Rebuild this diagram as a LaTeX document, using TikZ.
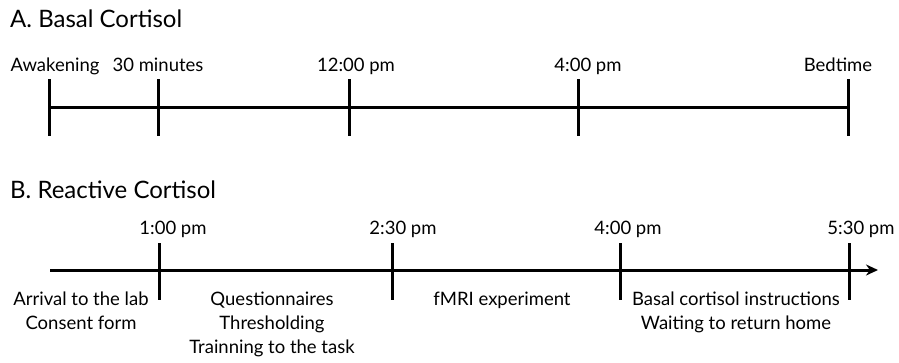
\documentclass[tikz,border=0pt]{standalone}
\usepackage{fontspec}
\setmainfont{Lato}
\usetikzlibrary{arrows.meta}
\begin{document}
\begin{tikzpicture}[x=1pt,y=-1pt,
  title/.style={font=\fontsize{24}{28}\selectfont, anchor=base west, inner sep=0pt},
  lbl/.style={font=\fontsize{18.5}{22}\selectfont, anchor=base, inner sep=0pt},
  axis/.style={line width=3pt},
  tick/.style={line width=3pt}]
\useasboundingbox (0,0) rectangle (899,362);
% Part A
\node[title] (tA) at (10,27) {A. Basal Cortisol};
\coordinate (a1t) at (49,79);  \coordinate (a1b) at (49,136);
\coordinate (a2t) at (158,79); \coordinate (a2b) at (158,136);
\coordinate (a3t) at (349,79); \coordinate (a3b) at (349,136);
\coordinate (a4t) at (578,79); \coordinate (a4b) at (578,136);
\coordinate (a5t) at (848,79); \coordinate (a5b) at (848,136);
\coordinate (aL) at (49,107); \coordinate (aR) at (848,107);
\draw[axis] (aL) -- (aR);
\foreach \i in {1,...,5} {\draw[tick] (a\i t) -- (a\i b);}
\node[lbl] (la1) at (55,71) {Awakening};
\node[lbl] (la2) at (158,71) {30 minutes};
\node[lbl] (la3) at (356,71) {12:00 pm};
\node[lbl] (la4) at (588,71) {4:00 pm};
\node[lbl] (la5) at (838,71) {Bedtime};
% Part B
\node[title] (tB) at (10,198) {B. Reactive Cortisol};
\coordinate (b1t) at (159,243); \coordinate (b1b) at (159,300);
\coordinate (b2t) at (392,243); \coordinate (b2b) at (392,300);
\coordinate (b3t) at (620,243); \coordinate (b3b) at (620,300);
\coordinate (b4t) at (849,243); \coordinate (b4b) at (849,300);
\coordinate (bL) at (50,270); \coordinate (bR) at (878,270);
\draw[axis,-{Stealth[length=12pt,width=11pt]}] (bL) -- (bR);
\foreach \i in {1,...,4} {\draw[tick] (b\i t) -- (b\i b);}
\node[lbl] (lb1) at (173,234) {1:00 pm};
\node[lbl] (lb2) at (403,234) {2:30 pm};
\node[lbl] (lb3) at (628,234) {4:00 pm};
\node[lbl] (lb4) at (861,234) {5:30 pm};
\node[lbl] (d1a) at (81,305) {Arrival to the lab};
\node[lbl] (d1b) at (81,329) {Consent form};
\node[lbl] (d2a) at (272,305) {Questionnaires};
\node[lbl] (d2b) at (272,329) {Thresholding};
\node[lbl] (d2c) at (272,353) {Trainning to the task};
\node[lbl] (d3a) at (502,305) {fMRI experiment};
\node[lbl] (d4a) at (736,305) {Basal cortisol instructions};
\node[lbl] (d4b) at (736,329) {Waiting to return home};
\end{tikzpicture}
\end{document}
